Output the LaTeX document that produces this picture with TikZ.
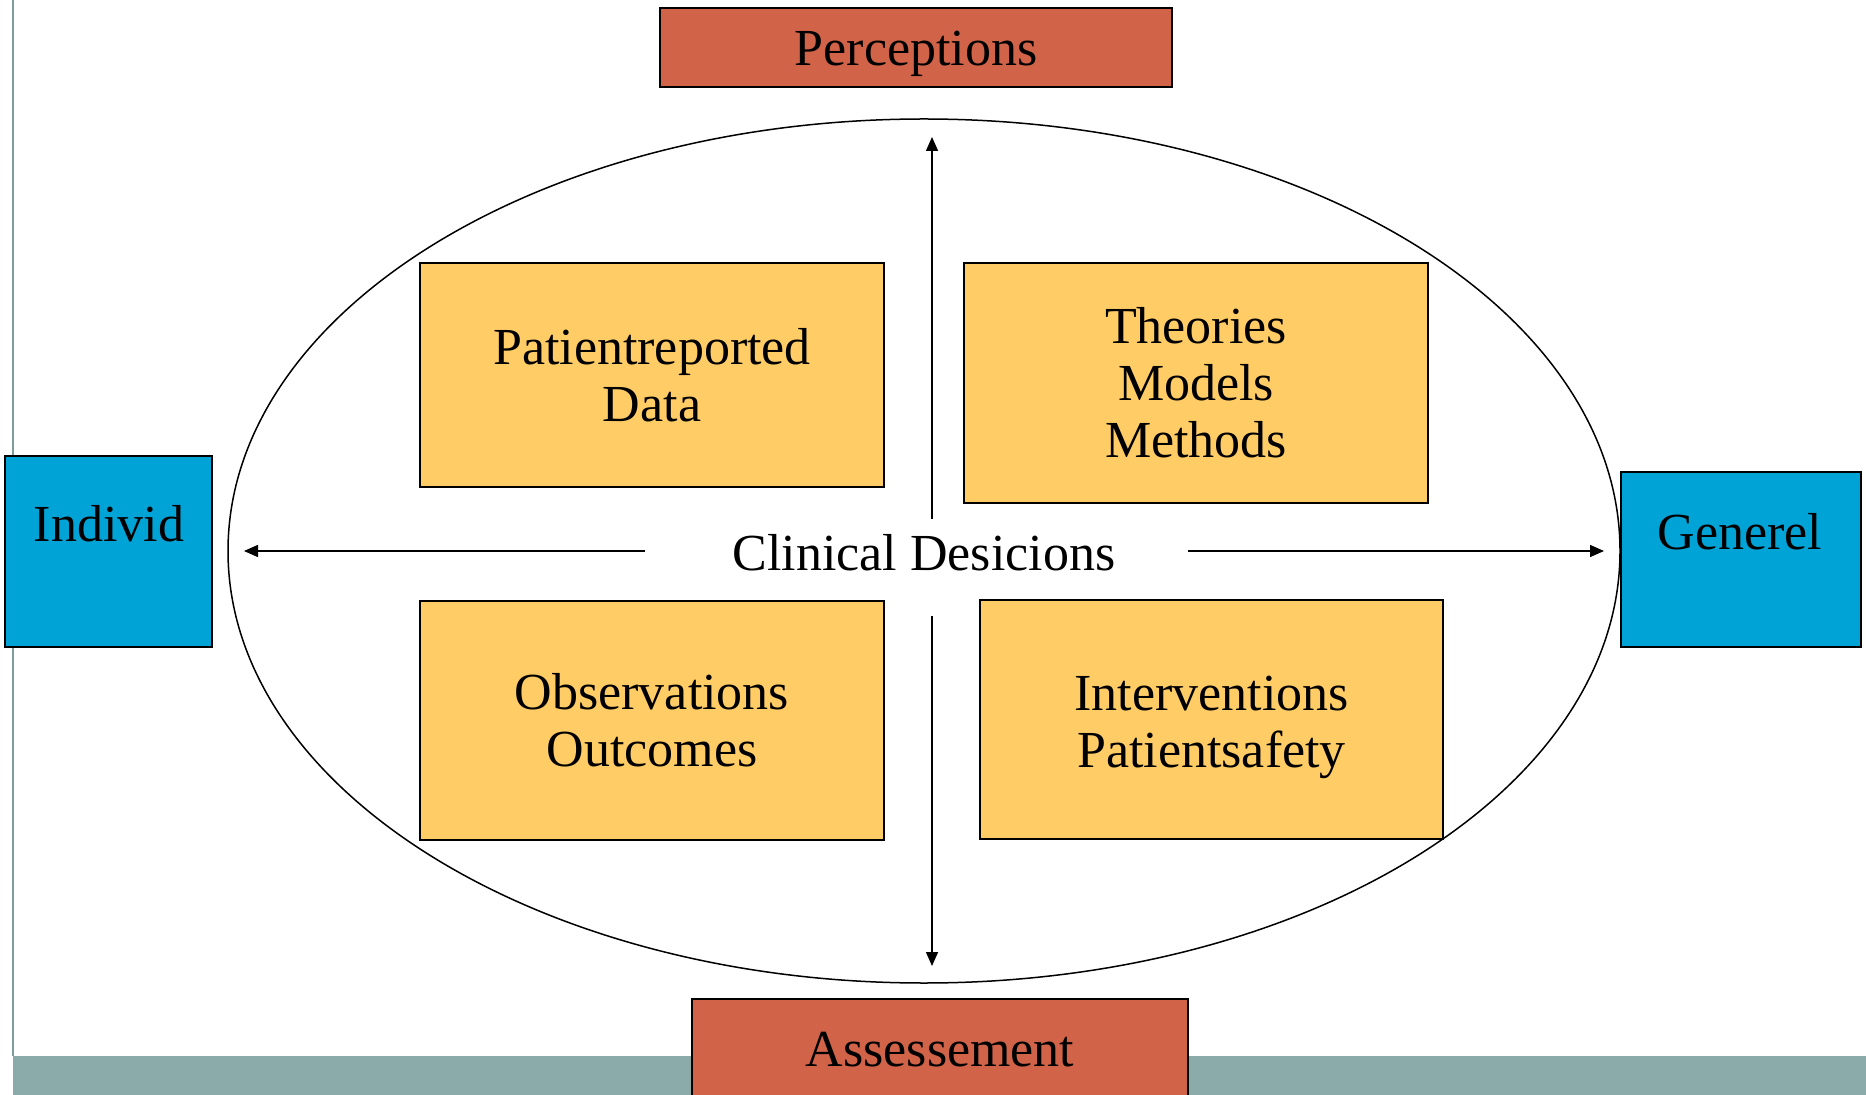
\documentclass[tikz,border=0pt]{standalone}
\usepackage{fontspec}
\setmainfont{Liberation Serif}
\usetikzlibrary{arrows.meta,shapes.geometric}
\definecolor{redbox}{HTML}{D16349}
\definecolor{yellowbox}{HTML}{FFCC66}
\definecolor{bluebox}{HTML}{00A3D6}
\definecolor{tealbar}{HTML}{8BABAB}
\definecolor{sideline}{HTML}{7F9C9C}
\begin{document}
\begin{tikzpicture}[x=0.5pt,y=-0.5pt,
  txt/.style={font=\fontsize{26}{28.5}\selectfont, align=center, inner sep=0pt},
  boxbase/.style={draw=black, line width=0.75pt, inner sep=0pt, font=\fontsize{26}{28.5}\selectfont, align=center},
  redb/.style={boxbase, fill=redbox},
  yelb/.style={boxbase, fill=yellowbox},
  blub/.style={boxbase, fill=bluebox},
  conn/.style={line width=0.75pt, -{Triangle[length=7pt,width=6pt]}}]
\clip (0,0) rectangle (1866,1095);
\fill[white] (0,0) rectangle (1866,1095);
% side line and bottom bar
\draw[sideline, line width=1pt] (13,0) -- (13,1056);
\fill[tealbar] (13,1056) rectangle (1866,1095);
% ellipse
\node[draw=black, line width=0.75pt, ellipse, minimum width=696pt, minimum height=432pt, inner sep=0pt] (ell) at (924,551) {};
% top / bottom boxes
\node[redb, minimum width=256pt, minimum height=39.5pt, text height=23.5pt, text depth=5.6pt] (perc) at (916,47.5) {Perceptions};
\node[redb, minimum width=248pt, minimum height=50.5pt] (assess) at (940,1049.5) {Assessement};
% side boxes
\node[blub, minimum width=103.5pt, minimum height=95.5pt] (individ) at (108.5,551.5) {};
\node[txt] (individtxt) at (109,524) {Individ};
\node[blub, minimum width=120pt, minimum height=87.5pt] (generel) at (1741,559.5) {};
\node[txt] (generetxt) at (1740,532) {Generel};
% inner boxes
\node[yelb, minimum width=232pt, minimum height=112pt] (patient) at (652,375) {Patientreported\\Data};
\node[yelb, minimum width=232pt, minimum height=120pt] (theories) at (1196,383) {Theories\\Models\\Methods};
\node[yelb, minimum width=232pt, minimum height=119.5pt] (observ) at (652,720.5) {Observations\\Outcomes};
\node[yelb, minimum width=231.5pt, minimum height=119.5pt] (interv) at (1211.5,719.5) {};
\node[txt] (intervtxt) at (1211.5,727) {Interventions\\Patientsafety};
% centre
\node[txt] (clinical) at (924,553) {Clinical Desicions};
\coordinate (upS) at (932,519);
\coordinate (upE) at (932,137);
\coordinate (dnS) at (932,616);
\coordinate (dnE) at (932,966);
\coordinate (lS) at (645,551);
\coordinate (lE) at (244,551);
\coordinate (rS) at (1188,551);
\coordinate (rE) at (1604,551);
\draw[conn] (upS) -- (upE);
\draw[conn] (dnS) -- (dnE);
\draw[conn] (lS) -- (lE);
\draw[conn] (rS) -- (rE);
\end{tikzpicture}
\end{document}
